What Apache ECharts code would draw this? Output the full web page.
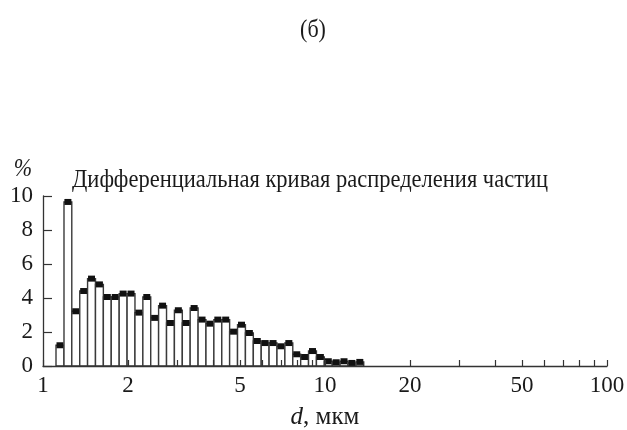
<!DOCTYPE html>
<html>
<head>
<meta charset="utf-8">
<script src="https://cdn.jsdelivr.net/npm/echarts@6/dist/echarts.min.js"></script>
<style>html,body{margin:0;padding:0;background:#fff}#c{width:627px;height:430px}</style>
</head>
<body>
<div id="c"></div>
<script>
// Bin edges (мкм)
var binEdges = [1.112, 1.187, 1.265, 1.350, 1.439, 1.535, 1.637, 1.746, 1.863, 1.987,
  2.119, 2.260, 2.410, 2.570, 2.742, 2.924, 3.119, 3.326, 3.548, 3.784,
  4.036, 4.305, 4.590, 4.896, 5.222, 5.570, 5.941, 6.335, 6.757, 7.207,
  7.687, 8.199, 8.742, 9.325, 9.945, 10.61, 11.31, 12.06, 12.87, 13.72];
// Differential distribution, %
var percentValues = [1.22, 9.65, 3.22, 4.41, 5.14, 4.80, 4.06, 4.06, 4.26, 4.26,
  3.14, 4.06, 2.83, 3.55, 2.53, 3.28, 2.53, 3.41, 2.73, 2.49,
  2.73, 2.73, 2.02, 2.43, 1.94, 1.47, 1.35, 1.35, 1.16, 1.35,
  0.69, 0.53, 0.88, 0.53, 0.28, 0.22, 0.28, 0.18, 0.24];
var xTickValues = [1, 2, 3, 4, 5, 6, 7, 8, 9, 10, 20, 30, 40, 50, 60, 70, 80, 90, 100];
var xLabelValues = [1, 2, 5, 10, 20, 50, 100];
var yTickLabels = [0, 2, 4, 6, 8, 10];

var FONT = '"Liberation Serif", "DejaVu Serif", serif';
var data = [];
for (var i = 0; i < percentValues.length; i++) {
  data.push([binEdges[i], binEdges[i + 1], percentValues[i]]);
}

var chart = echarts.init(document.getElementById('c'), null, {renderer: 'canvas'});
chart.setOption({
  backgroundColor: '#fff',
  animation: false,
  grid: {left: 43, right: 20, top: 196, bottom: 64, containLabel: false, outerBoundsMode: 'none'},
  graphic: [
    {type: 'text', x: 313, y: 30, scaleY: 1.18, style: {text: '(б)', font: '22px ' + FONT, fill: '#1a1a1a', textAlign: 'center', textVerticalAlign: 'middle'}},
    {type: 'text', x: 23, y: 170, scaleY: 1.1, style: {text: '%', font: 'italic 22px ' + FONT, fill: '#1a1a1a', textAlign: 'center', textVerticalAlign: 'middle'}},
    {type: 'text', x: 72, y: 180, scaleY: 1.15, style: {text: 'Дифференциальная кривая распределения частиц', font: '22.5px ' + FONT, fill: '#1a1a1a', textAlign: 'left', textVerticalAlign: 'middle'}}
  ],
  xAxis: {
    type: 'log', logBase: 10, min: 1, max: 100, z: 10,
    name: '{i|d}, мкм', nameLocation: 'middle', nameGap: 39,
    nameTextStyle: {fontFamily: FONT, fontSize: 25, color: '#1a1a1a',
      rich: {i: {fontFamily: FONT, fontSize: 25, fontStyle: 'italic', color: '#1a1a1a'}}},
    axisLine: {show: true, lineStyle: {color: '#333', width: 1.3}},
    axisTick: {show: true, inside: true, length: 6, customValues: xTickValues, lineStyle: {color: '#333', width: 1.2}},
    axisLabel: {show: true, margin: 8, customValues: xLabelValues, fontFamily: FONT, fontSize: 23, color: '#1a1a1a', showMinLabel: true, showMaxLabel: true},
    splitLine: {show: false},
    minorTick: {show: false}
  },
  yAxis: {
    type: 'value', min: 0, max: 10, interval: 2,
    axisLine: {show: true, lineStyle: {color: '#333', width: 1.3}},
    axisTick: {show: true, inside: true, length: 9, lineStyle: {color: '#333', width: 1.2}},
    axisLabel: {margin: 10, fontFamily: FONT, fontSize: 23, color: '#1a1a1a',
      formatter: function (v) { return yTickLabels.indexOf(v) >= 0 ? String(v) : ''; }},
    splitLine: {show: false}
  },
  series: [{
    type: 'custom',
    clip: false,
    encode: {x: [0, 1], y: 2},
    data: data,
    renderItem: function (params, api) {
      var lo = api.value(0), hi = api.value(1), v = api.value(2);
      var p0 = api.coord([lo, v]);
      var p1 = api.coord([hi, 0]);
      var cx = (p0[0] + p1[0]) / 2;
      return {
        type: 'group',
        children: [
          {type: 'rect', shape: {x: p0[0], y: p0[1], width: p1[0] - p0[0], height: p1[1] - p0[1]},
            style: {fill: '#fff', stroke: '#3a3a3a', lineWidth: 1.4}},
          {type: 'rect', shape: {x: cx - 3.5, y: p0[1] - 3, width: 7, height: 6},
            style: {fill: '#111'}}
        ]
      };
    }
  }]
});
</script>
</body>
</html>
